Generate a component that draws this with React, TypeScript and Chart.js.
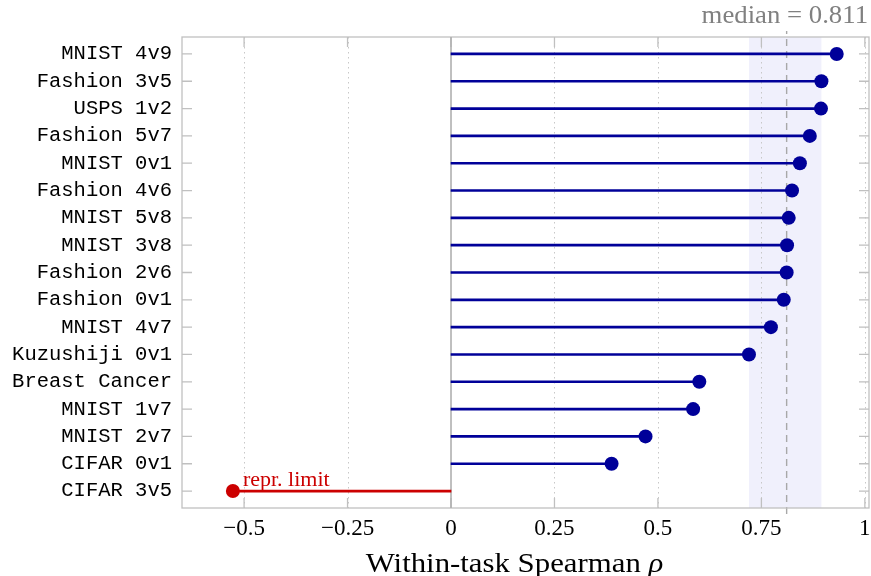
import React, { useEffect, useRef } from 'react';
import { Chart, registerables } from 'chart.js';

Chart.register(...registerables);

const categories = [
  'MNIST 4v9', 'Fashion 3v5', 'USPS 1v2', 'Fashion 5v7', 'MNIST 0v1', 'Fashion 4v6',
  'MNIST 5v8', 'MNIST 3v8', 'Fashion 2v6', 'Fashion 0v1', 'MNIST 4v7', 'Kuzushiji 0v1',
  'Breast Cancer', 'MNIST 1v7', 'MNIST 2v7', 'CIFAR 0v1', 'CIFAR 3v5',
];
const rhoValues = [
  0.932, 0.895, 0.894, 0.867, 0.843, 0.824, 0.816, 0.812, 0.811, 0.804, 0.773, 0.72,
  0.6, 0.585, 0.47, 0.388, -0.527,
];
const flaggedTasks = ['CIFAR 3v5'];
const xTickValues = [-0.5, -0.25, 0, 0.25, 0.5, 0.75, 1];
const xRange = [-0.65, 1.01];
const medianValue = 0.811;
const iqrBand = [0.72, 0.895];
const medianLabel = 'median = 0.811';
const flagLabel = 'repr. limit';
const xTitle = 'Within-task Spearman ';
const xTitleSymbol = 'ρ';

const BLUE = '#000099';
const RED = '#cc0000';

const fmtTick = (v: number) => (v < 0 ? '\u2212' + String(Math.abs(v)) : String(v));

const decorPlugin = {
  id: 'decor',
  beforeDatasetsDraw(chart: any) {
    const { ctx, chartArea: a, scales } = chart;
    const x = scales.x;
    const y = scales.y;
    ctx.save();
    // IQR band
    const b0 = x.getPixelForValue(iqrBand[0]);
    const b1 = x.getPixelForValue(iqrBand[1]);
    ctx.fillStyle = 'rgb(240,240,252)';
    ctx.fillRect(b0, a.top, b1 - b0, a.bottom - a.top);
    // dotted grid
    ctx.strokeStyle = '#c8c8c8';
    ctx.lineWidth = 1;
    ctx.setLineDash([1.5, 3.5]);
    for (const v of xTickValues) {
      if (v === 0) continue;
      const px = Math.round(x.getPixelForValue(v)) + 0.5;
      ctx.beginPath();
      ctx.moveTo(px, a.top);
      ctx.lineTo(px, a.bottom);
      ctx.stroke();
    }
    // median dashed
    ctx.strokeStyle = '#a8a8a8';
    ctx.lineWidth = 1.4;
    ctx.setLineDash([7, 5]);
    const mx = x.getPixelForValue(medianValue);
    ctx.beginPath();
    ctx.moveTo(mx, a.bottom + 6);
    ctx.lineTo(mx, a.top - 6);
    ctx.stroke();
    ctx.setLineDash([]);
    // frame
    ctx.strokeStyle = '#c0c0c0';
    ctx.lineWidth = 1.3;
    ctx.strokeRect(a.left, a.top, a.right - a.left, a.bottom - a.top);
    // inward ticks
    const tl = 10;
    ctx.beginPath();
    categories.forEach((_, i) => {
      const py = y.getPixelForValue(i);
      ctx.moveTo(a.left, py);
      ctx.lineTo(a.left + tl, py);
      ctx.moveTo(a.right, py);
      ctx.lineTo(a.right - tl, py);
    });
    xTickValues.forEach((v) => {
      const px = x.getPixelForValue(v);
      ctx.moveTo(px, a.top);
      ctx.lineTo(px, a.top + tl);
      ctx.moveTo(px, a.bottom);
      ctx.lineTo(px, a.bottom - tl);
    });
    ctx.stroke();
    // zero line
    ctx.strokeStyle = '#b0b0b0';
    ctx.lineWidth = 1.6;
    const zx = x.getPixelForValue(0);
    ctx.beginPath();
    ctx.moveTo(zx, a.top);
    ctx.lineTo(zx, a.bottom);
    ctx.stroke();
    ctx.restore();
  },
  afterDraw(chart: any) {
    const { ctx, chartArea: a, scales } = chart;
    const x = scales.x;
    const y = scales.y;
    ctx.save();
    // median label
    ctx.fillStyle = '#808080';
    ctx.font = '25px "Liberation Serif"';
    ctx.textAlign = 'right';
    ctx.textBaseline = 'alphabetic';
    ctx.save();
    ctx.translate(a.right - 1, a.top - 14);
    ctx.scale(1.07, 1);
    ctx.fillText(medianLabel, 0, 0);
    ctx.restore();
    // flagged label
    flaggedTasks.forEach((name) => {
      const i = categories.indexOf(name);
      const px = x.getPixelForValue(rhoValues[i]);
      const py = y.getPixelForValue(i);
      ctx.fillStyle = RED;
      ctx.font = '22px "Liberation Serif"';
      ctx.textAlign = 'left';
      ctx.fillText(flagLabel, px + 10, py - 5);
    });
    // x title (slightly widened to mimic Computer Modern proportions)
    const stretch = 1.1;
    ctx.fillStyle = '#000';
    ctx.font = '28px "Liberation Serif"';
    const w1 = ctx.measureText(xTitle).width;
    ctx.font = 'italic 28px "Liberation Serif"';
    const w2 = ctx.measureText(xTitleSymbol).width;
    const cx = (a.left + a.right) / 2 - 11;
    ctx.save();
    ctx.translate(cx, a.bottom + 64);
    ctx.scale(stretch, 1);
    const sx = -(w1 + w2) / 2;
    ctx.textAlign = 'left';
    ctx.font = '28px "Liberation Serif"';
    ctx.fillText(xTitle, sx, 0);
    ctx.font = 'italic 28px "Liberation Serif"';
    ctx.fillText(xTitleSymbol, sx + w1, 0);
    ctx.restore();
    ctx.restore();
  },
};

export default function App() {
  const ref = useRef<HTMLCanvasElement | null>(null);
  useEffect(() => {
    if (!ref.current) return;
    const colors = categories.map((c) => (flaggedTasks.includes(c) ? RED : BLUE));
    const points = rhoValues.map((v, i) => ({ x: v, y: i }));
    const chart = new Chart(ref.current, {
      type: 'bar',
      data: {
        datasets: [
          {
            type: 'bar',
            indexAxis: 'y',
            data: points,
            backgroundColor: colors,
            borderWidth: 0,
            barThickness: 2,
            xAxisID: 'x',
            yAxisID: 'y',
          } as any,
          {
            type: 'scatter',
            data: points,
            pointRadius: 7,
            pointBackgroundColor: colors,
            pointBorderWidth: 0,
            borderWidth: 0,
            xAxisID: 'x',
            yAxisID: 'y',
          } as any,
        ],
      },
      options: {
        animation: false,
        responsive: false,
        layout: { autoPadding: false, padding: { top: 37, right: 2, left: 0, bottom: 0 } },
        plugins: { legend: { display: false }, tooltip: { enabled: false } },
        scales: {
          x: {
            type: 'linear',
            position: 'bottom',
            min: xRange[0],
            max: xRange[1],
            offset: false,
            beginAtZero: false,
            grace: 0,
            grid: { display: false, drawTicks: false, offset: false },
            border: { display: false },
            afterBuildTicks: (s: any) => {
              s.ticks = xTickValues.map((v) => ({ value: v }));
            },
            afterFit: (s: any) => {
              s.height = 68;
              s.paddingLeft = 0;
              s.paddingRight = 0;
            },
            ticks: {
              autoSkip: false,
              maxRotation: 0,
              padding: 7,
              color: '#000',
              font: { family: '"Liberation Serif"', size: 23 },
              callback: (v: any) => fmtTick(Number(v)),
            },
          },
          y: {
            type: 'linear',
            position: 'left',
            reverse: true,
            min: -0.62,
            max: categories.length - 1 + 0.62,
            offset: false,
            beginAtZero: false,
            grace: 0,
            grid: { display: false, drawTicks: false, offset: false },
            border: { display: false },
            afterBuildTicks: (s: any) => {
              s.ticks = categories.map((_, i) => ({ value: i }));
            },
            afterFit: (s: any) => {
              s.width = 182;
              s.paddingTop = 0;
              s.paddingBottom = 0;
            },
            ticks: {
              autoSkip: false,
              padding: 10,
              color: '#000',
              font: { family: '"Liberation Mono"', size: 20.5 },
              callback: (v: any) => categories[Number(v)] ?? '',
            },
          },
        },
      } as any,
      plugins: [decorPlugin],
    });
    return () => chart.destroy();
  }, []);
  return (
    <div style={{ position: 'absolute', left: 0, top: 0, width: 871, height: 576, background: '#fff' }}>
      <canvas ref={ref} width={871} height={576} style={{ display: 'block' }} />
    </div>
  );
}
